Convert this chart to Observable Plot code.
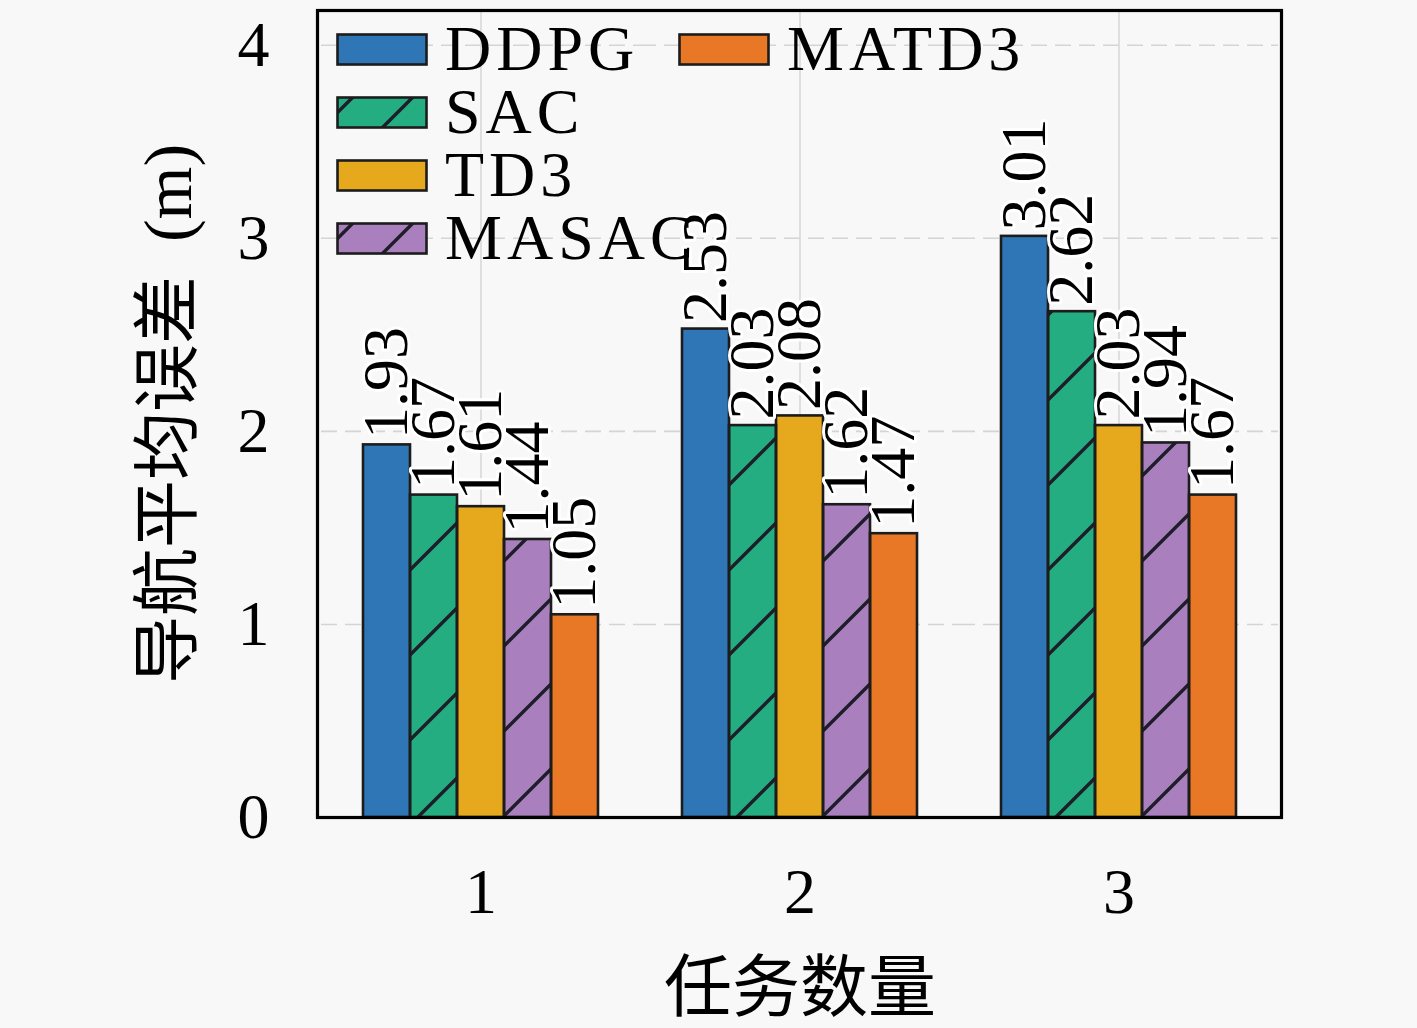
<!DOCTYPE html>
<html>
<head>
<meta charset="utf-8">
<script src="https://cdn.jsdelivr.net/npm/d3@7"></script>
<script src="https://cdn.jsdelivr.net/npm/@observablehq/plot@0.6"></script>
<style>
  html, body { margin: 0; padding: 0; background: #f8f8f8; }
  #wrap { position: relative; width: 1417px; height: 1028px; }
  #legend { position: absolute; left: 0; top: 0; font-family: 'Liberation Serif', serif; font-size: 64px; letter-spacing: 5px; color: #000; }
  .item { position: absolute; display: flex; align-items: center; height: 58px; }
  .item span { line-height: 58px; display: block; }
  .item svg { display: block; margin-right: 17px; }
</style>
</head>
<body>
<svg width="0" height="0" style="position:absolute">
  <defs>
    <pattern id="hatch" patternUnits="userSpaceOnUse" width="85" height="85">
      <path d="M0,85 L85,0 M-10,10 L10,-10 M75,95 L95,75" stroke="#1e1e2a" stroke-width="3.4" fill="none"/>
    </pattern>
    <pattern id="hatchL" patternUnits="userSpaceOnUse" width="60" height="60" x="18">
      <path d="M0,60 L60,0 M-10,10 L10,-10 M50,70 L70,50" stroke="#1e1e2a" stroke-width="3.4" fill="none"/>
    </pattern>
  </defs>
</svg>
<div id="wrap">
  <div id="chart"></div>
  <div id="legend"></div>
</div>
<script>
const tasks = ["1", "2", "3"];
const algos = ["DDPG", "SAC", "TD3", "MASAC", "MATD3"];
const colors = ["#2f76b6", "#24ad81", "#e6a91e", "#a97fbd", "#e87826"];
const hatched = ["SAC", "MASAC"];
const ddpg  = [1.93, 2.53, 3.01];
const sac   = [1.67, 2.03, 2.62];
const td3   = [1.61, 2.08, 2.03];
const masac = [1.44, 1.62, 1.94];
const matd3 = [1.05, 1.47, 1.67];
const yTicks = [0, 1, 2, 3, 4];
const yLabel = "导航平均误差\u2002(m)";
const xLabel = "任务数量";

const series = [ddpg, sac, td3, masac, matd3];
const data = tasks.flatMap((t, i) => algos.map((a, j) => ({task: t, algo: a, value: series[j][i]})));
const hatchData = data.filter(d => hatched.includes(d.algo));

const chart = Plot.plot({
  width: 1417,
  height: 1028,
  marginLeft: 316,
  marginRight: 134,
  marginTop: 10,
  marginBottom: 211,
  style: {fontFamily: "'Liberation Serif', 'Noto Sans CJK SC', serif", fontSize: "64px", background: "#f8f8f8", color: "#000", overflow: "visible"},
  fx: {domain: tasks, paddingInner: 0.25, paddingOuter: 0.1375},
  x: {domain: algos, padding: 0, axis: null},
  y: {domain: [0, 4.18]},
  color: {domain: algos, range: colors},
  marks: [
    Plot.ruleY(yTicks.slice(1), {insetLeft: -40, insetRight: -40, stroke: "#d4d4d4", strokeWidth: 1.6, strokeDasharray: "16,8"}),
    Plot.ruleX(["TD3"], {stroke: "#d8d8d8", strokeWidth: 1.6}),
    Plot.barY(data, {fx: "task", x: "algo", y: "value", fill: "algo"}),
    Plot.barY(hatchData, {fx: "task", x: "algo", y: "value", fill: "url(#hatch)"}),
    Plot.barY(data, {fx: "task", x: "algo", y: "value", fill: "none", stroke: "#1c1c1c", strokeWidth: 2.6}),
    Plot.text(data, {fx: "task", x: "algo", y: "value", text: d => d.value.toFixed(2), rotate: -90, textAnchor: "start", lineAnchor: "middle", dy: -6, fill: "#000", stroke: "#ffffff", strokeWidth: 6}),
    Plot.axisY(yTicks, {tickSize: 0, tickPadding: 92, tickFormat: d => String(d), label: null}),
    Plot.axisY([], {tickSize: 0, fontSize: 68, label: yLabel, labelArrow: "none", labelAnchor: "center", labelOffset: 219}),
    Plot.axisFx({anchor: "bottom", tickSize: 0, tickPadding: 50, label: null}),
    Plot.axisFx([], {anchor: "bottom", tickSize: 0, fontSize: 68, label: xLabel, labelArrow: "none", labelAnchor: "center", labelOffset: 193}),
    Plot.frame({facet: "super", insetLeft: -44, insetRight: -43, stroke: "#000", strokeWidth: 3.2})
  ]
});
document.getElementById("chart").appendChild(chart);

// legend inside the plot area
const legend = document.getElementById("legend");
const placement = [[336, 20], [336, 83], [336, 146], [336, 209], [678, 20]];
const order = ["DDPG", "SAC", "TD3", "MASAC", "MATD3"];
order.forEach((a, i) => {
  const j = algos.indexOf(a);
  const div = document.createElement("div");
  div.className = "item";
  div.style.left = placement[i][0] + "px";
  div.style.top = placement[i][1] + "px";
  const hatch = hatched.includes(a) ? `<rect x="1.5" y="1.5" width="89" height="30" fill="url(#hatchL)"/>` : "";
  div.innerHTML = `<svg width="92" height="33"><rect x="1.5" y="1.5" width="89" height="30" fill="${colors[j]}"/>${hatch}<rect x="1.5" y="1.5" width="89" height="30" fill="none" stroke="#1c1c1c" stroke-width="2.6"/></svg><span>${a}</span>`;
  legend.appendChild(div);
});
</script>
</body>
</html>
